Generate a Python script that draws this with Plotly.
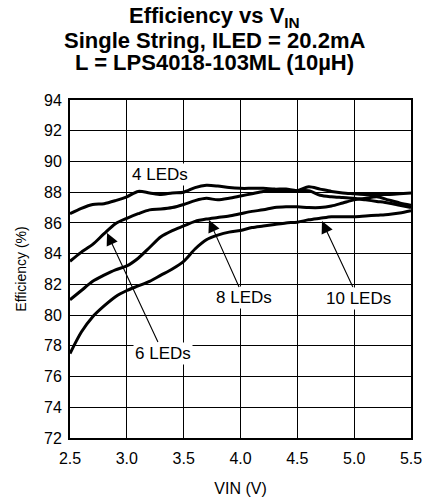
import plotly.graph_objects as go

vin = [2.5, 2.6, 2.7, 2.8, 2.9, 3.0, 3.1, 3.2, 3.3, 3.4, 3.5, 3.6, 3.7, 3.8, 3.9, 4.0,
       4.1, 4.2, 4.3, 4.4, 4.5, 4.6, 4.7, 4.8, 4.9, 5.0, 5.1, 5.2, 5.3, 5.4, 5.5]

eff_4leds = [86.6, 86.95, 87.2, 87.25, 87.45, 87.7, 88.05, 87.95, 87.85, 87.95, 88.0,
             88.3, 88.45, 88.4, 88.3, 88.25, 88.25, 88.25, 88.2, 88.2, 88.1, 88.35,
             88.2, 88.05, 87.95, 87.9, 87.85, 87.85, 87.85, 87.9, 87.95]
eff_6leds = [83.5, 84.1, 84.6, 85.3, 85.95, 86.3, 86.6, 86.85, 86.9, 87.0, 87.2,
             87.45, 87.6, 87.5, 87.6, 87.75, 87.9, 88.05, 88.1, 88.1, 88.1, 88.1,
             87.8, 87.7, 87.65, 87.6, 87.5, 87.4, 87.3, 87.15, 87.0]
eff_8leds = [81.0, 81.6, 82.2, 82.6, 82.95, 83.2, 83.7, 84.4, 85.1, 85.5, 85.8,
             86.1, 86.25, 86.35, 86.45, 86.6, 86.75, 86.85, 87.0, 87.05, 87.05, 87.0,
             87.0, 87.1, 87.3, 87.5, 87.6, 87.7, 87.5, 87.3, 87.15]
eff_10leds = [77.5, 78.9, 79.9, 80.6, 81.2, 81.6, 81.9, 82.2, 82.6, 83.0, 83.5,
              84.3, 84.9, 85.2, 85.4, 85.5, 85.7, 85.8, 85.9, 86.0, 86.05, 86.2,
              86.3, 86.4, 86.4, 86.4, 86.45, 86.5, 86.55, 86.65, 86.8]

series = [("4 LEDs", eff_4leds), ("6 LEDs", eff_6leds),
          ("8 LEDs", eff_8leds), ("10 LEDs", eff_10leds)]

x_ticks = [2.5, 3.0, 3.5, 4.0, 4.5, 5.0, 5.5]
y_ticks = [72, 74, 76, 78, 80, 82, 84, 86, 88, 90, 92, 94]

title_lines = ["Efficiency vs V<sub>IN</sub>",
               "Single String, ILED = 20.2mA",
               "L = LPS4018-103ML (10µH)"]

FONT = "Liberation Sans, Arial, Helvetica, sans-serif"

fig = go.Figure()
for name, vals in series:
    fig.add_trace(go.Scatter(x=vin, y=vals, mode="lines", name=name,
                             line=dict(color="black", width=3, shape="spline", smoothing=0.8),
                             showlegend=False))

# title lines (as separate annotations for tight line spacing), centred on the page
for txt, yp in zip(title_lines, [1.247, 1.1746, 1.1095]):
    fig.add_annotation(x=0.425, y=yp, xref="paper", yref="paper", text=f"<b>{txt}</b>",
                       showarrow=False, xanchor="center", yanchor="middle",
                       font=dict(size=22, family=FONT, color="black"))

# labels
fig.add_annotation(x=3.29, y=89.18, text="4 LEDs", showarrow=False,
                   bgcolor="white", font=dict(size=17, color="black", family=FONT))
arrow_labels = [
    ("6 LEDs", 2.826, 85.34, 56, 120),
    ("8 LEDs", 3.723, 86.19, 35, 78),
    ("10 LEDs", 4.717, 86.12, 36, 77),
]
for txt, x, y, ax, ay in arrow_labels:
    fig.add_annotation(x=x, y=y, text=txt, showarrow=True, ax=ax, ay=ay,
                       arrowhead=2, arrowsize=2.2, arrowwidth=1.1, arrowcolor="black",
                       bgcolor="white", font=dict(size=17, color="black", family=FONT))

fig.update_layout(
    width=425, height=504,
    margin=dict(l=70, r=14, t=100, b=66, autoexpand=False),
    paper_bgcolor="white", plot_bgcolor="white",
    font=dict(family=FONT, size=16, color="black"),
)
fig.update_xaxes(range=[2.5, 5.5], tickvals=x_ticks, ticktext=[f"{v:.1f}" for v in x_ticks],
                 showgrid=True, gridcolor="black", gridwidth=1,
                 showline=True, linecolor="black", linewidth=2, mirror=True,
                 ticks="", zeroline=False, ticklabelstandoff=5, automargin=False,
                 tickfont=dict(size=16),
                 title=dict(text="VIN (V)", font=dict(size=16), standoff=17))
fig.update_yaxes(range=[72, 94], tickvals=y_ticks,
                 showgrid=True, gridcolor="black", gridwidth=1,
                 showline=True, linecolor="black", linewidth=2, mirror=True,
                 ticks="", zeroline=False, ticklabelstandoff=3, automargin=False,
                 tickfont=dict(size=16),
                 title=dict(text="Efficiency (%)", font=dict(size=14), standoff=14))

fig.write_html("out.html", config={"displayModeBar": False},
               post_script="document.body.style.margin='0';")
